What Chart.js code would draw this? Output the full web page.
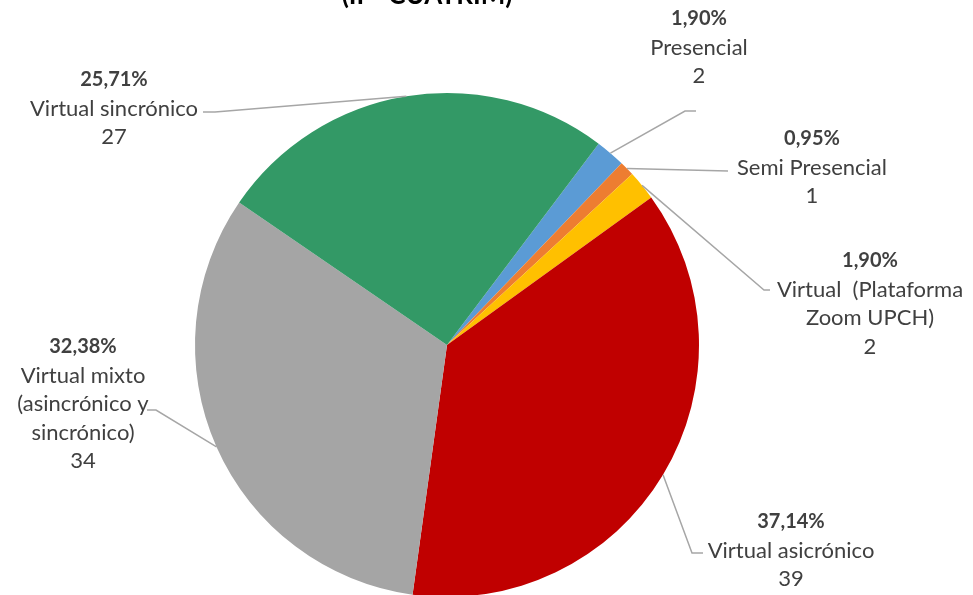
<!DOCTYPE html>
<html lang="es">
<head>
    <meta charset="UTF-8">
    <title>Modalidad</title>
    <script src="https://cdn.jsdelivr.net/npm/chart.js"></script>
    <style>
        body {
            margin: 0;
            padding: 0;
            background-color: #fff;
        }

        .chart-wrap {
            position: relative;
            width: 973px;
            height: 595px;
            overflow: hidden;
        }
    </style>
</head>
<body>

<div class="chart-wrap">
    <canvas id="pie-chart" width="973" height="600"></canvas>
</div>

<script>
    const titleText = '(IP- CUATRIM)';
    const categories = [
        ['Presencial'],
        ['Semi Presencial'],
        ['Virtual  (Plataforma', 'Zoom UPCH)'],
        ['Virtual asicrónico'],
        ['Virtual mixto', '(asincrónico y', 'sincrónico)'],
        ['Virtual sincrónico']
    ];
    const counts = [2, 1, 2, 39, 34, 27];
    const colors = ['#5B9BD5', '#ED7D31', '#FFC000', '#C00000', '#A5A5A5', '#339966'];

    // donde va cada etiqueta (centro x, y de la primera linea) y el codo de la linea guia
    const labelLayout = [
        { x: 699, y: 19, path: [[685, 111], [696, 111]] },
        { x: 812, y: 139, path: [[728, 171]] },
        { x: 870, y: 261, path: [[764, 290], [770, 290]] },
        { x: 791, y: 522, path: [[692, 553], [703, 553]] },
        { x: 83, y: 347, path: [[156, 410], [147, 410]] },
        { x: 114, y: 80, path: [[215, 112], [203, 112]] }
    ];

    const lineGap = 28.6;
    const textColor = '#404040';

    const labelsPlugin = {
        id: 'outsideLabels',
        afterDatasetsDraw(chart) {
            const ctx = chart.ctx;
            const arcs = chart.getDatasetMeta(0).data;
            const total = counts.reduce((a, b) => a + b, 0);

            ctx.save();
            arcs.forEach((arc, i) => {
                const p = arc.getProps(['x', 'y', 'startAngle', 'endAngle', 'outerRadius'], true);
                const mid = (p.startAngle + p.endAngle) / 2;
                const sx = p.x + Math.cos(mid) * p.outerRadius;
                const sy = p.y + Math.sin(mid) * p.outerRadius;
                const lay = labelLayout[i];

                ctx.strokeStyle = '#A6A6A6';
                ctx.lineWidth = 1.5;
                ctx.beginPath();
                ctx.moveTo(sx, sy);
                lay.path.forEach(pt => ctx.lineTo(pt[0], pt[1]));
                ctx.stroke();

                const pct = (counts[i] / total * 100).toFixed(2).replace('.', ',') + '%';
                const lines = [pct].concat(categories[i], [String(counts[i])]);
                ctx.fillStyle = textColor;
                ctx.textAlign = 'center';
                ctx.textBaseline = 'middle';
                lines.forEach((txt, j) => {
                    ctx.font = (j === 0 ? 'bold 20px' : '22px') + ' Lato, sans-serif';
                    ctx.fillText(txt, lay.x, lay.y + j * lineGap);
                });
            });

            ctx.font = 'bold 26px Lato, sans-serif';
            ctx.fillStyle = '#000';
            ctx.textAlign = 'center';
            ctx.textBaseline = 'alphabetic';
            ctx.fillText(titleText, 427, 4);
            ctx.restore();
        }
    };

    const ctx = document.getElementById('pie-chart').getContext('2d');
    new Chart(ctx, {
        type: 'pie',
        data: {
            labels: categories,
            datasets: [{
                data: counts,
                backgroundColor: colors,
                borderWidth: 0
            }]
        },
        options: {
            responsive: false,
            animation: false,
            rotation: 37,
            layout: {
                padding: { left: 195, right: 274, top: 93, bottom: 3 }
            },
            plugins: {
                legend: { display: false },
                tooltip: { enabled: false }
            }
        },
        plugins: [labelsPlugin]
    });
</script>

</body>
</html>
